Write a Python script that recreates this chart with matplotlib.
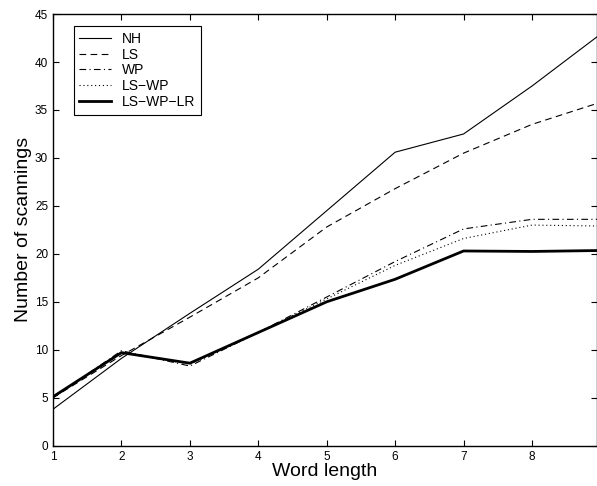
import matplotlib
matplotlib.use('Agg')
import matplotlib.pyplot as plt

word_length = [1, 2, 3, 4, 5, 6, 7, 8, 9]
nh = [3.8, 9.1, 13.8, 18.4, 24.5, 30.6, 32.5, 37.5, 42.9]
ls = [5.0, 9.4, 13.4, 17.5, 22.8, 26.8, 30.5, 33.5, 35.8]
wp = [5.0, 9.9, 8.3, 11.8, 15.5, 19.2, 22.6, 23.6, 23.6]
ls_wp = [5.0, 9.7, 8.5, 11.8, 15.3, 18.8, 21.6, 23.0, 22.9]
ls_wp_lr = [5.1, 9.7, 8.6, 11.8, 15.0, 17.35, 20.3, 20.25, 20.35]

plt.rcParams['font.family'] = ['Liberation Sans', 'DejaVu Sans']

fig = plt.figure(figsize=(5.97, 4.86), dpi=100)
ax = fig.add_axes([0.0888, 0.083, 0.9112, 0.888])

ax.plot(word_length, nh, color='black', linestyle='-', linewidth=0.8, label='NH')
ax.plot(word_length, ls, color='black', linestyle=(0, (6, 4)), linewidth=0.8, label='LS')
ax.plot(word_length, wp, color='black', linestyle=(0, (6, 3, 1, 3)), linewidth=0.8, label='WP')
ax.plot(word_length, ls_wp, color='black', linestyle=(0, (1, 2.5)), linewidth=0.8, label='LS\u2212WP')
ax.plot(word_length, ls_wp_lr, color='black', linestyle='-', linewidth=2.0, label='LS\u2212WP\u2212LR')

ax.set_xlim(1, 8.95)
ax.set_ylim(0, 45)
ax.set_xticks([1, 2, 3, 4, 5, 6, 7, 8])
ax.set_yticks(range(0, 46, 5))
ax.tick_params(direction='in', top=True, right=True, length=4, width=0.8, labelsize=8.5)
for s in ax.spines.values():
    s.set_linewidth(1.0)

ax.set_xlabel('Word length', fontsize=14, labelpad=0)
ax.set_ylabel('Number of scannings', fontsize=14, labelpad=2)

leg = ax.legend(loc='upper left', bbox_to_anchor=(0.038, 0.972), fontsize=10,
                frameon=True, fancybox=False, edgecolor='black', framealpha=1,
                borderpad=0.4, labelspacing=0.13, handlelength=2.3, handletextpad=0.8,
                borderaxespad=0)
leg.get_frame().set_linewidth(0.8)

fig.savefig('out.png', dpi=100)
